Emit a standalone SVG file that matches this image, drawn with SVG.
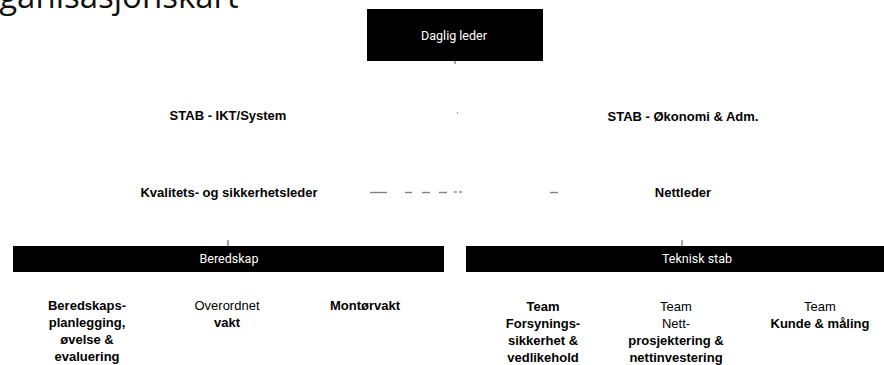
<svg xmlns="http://www.w3.org/2000/svg" width="884" height="365" viewBox="0 0 884 365">
<style>
.lbl{font-family:"Liberation Sans",Arial,sans-serif;font-size:13px;font-weight:bold;fill:#000;text-anchor:middle}
.lbm{font-family:"Liberation Sans",Arial,sans-serif;font-size:13px;font-weight:normal;fill:#000;text-anchor:middle}
.wt{font-family:Roboto,"Liberation Sans",sans-serif;font-size:12.5px;fill:#fff;text-anchor:middle}
.box{fill:#000}
.con{stroke:#808080;stroke-width:1.4;fill:none}
</style>
<rect width="884" height="365" fill="#fff"/>
<text x="-40" y="8" font-family="'Open Sans','Noto Sans',sans-serif" font-size="33" fill="#111">Organisasjonskart</text>
<g id="connectors">
<line class="con" x1="455" y1="61" x2="455" y2="64"/>
<line class="con" x1="457" y1="113" x2="458" y2="113"/>
<line class="con" x1="370" y1="192.5" x2="387" y2="192.5"/>
<line class="con" x1="405" y1="192.5" x2="412" y2="192.5"/>
<line class="con" x1="422" y1="192.5" x2="430" y2="192.5"/>
<line class="con" x1="439" y1="192.5" x2="447" y2="192.5"/>
<line class="con" x1="454" y1="192" x2="457" y2="192" stroke-width="1"/>
<line class="con" x1="459" y1="192" x2="462" y2="192" stroke-width="1"/>
<line class="con" x1="550" y1="192.5" x2="558" y2="192.5"/>
<line class="con" x1="228" y1="240" x2="228" y2="246"/>
<line class="con" x1="682" y1="240" x2="682" y2="246"/>
</g>
<g id="daglig-leder">
<rect class="box" x="367" y="9" width="176" height="52"/>
<text class="wt" x="454" y="40">Daglig leder</text>
</g>
<g id="stab-ikt">
<text class="lbl" x="228" y="120">STAB - IKT/System</text>
</g>
<g id="stab-okonomi">
<text class="lbl" x="683" y="121">STAB - Økonomi &amp; Adm.</text>
</g>
<g id="kvalitet">
<text class="lbl" x="229" y="197">Kvalitets- og sikkerhetsleder</text>
</g>
<g id="nettleder">
<text class="lbl" x="683" y="197">Nettleder</text>
</g>
<g id="beredskap">
<rect class="box" x="13" y="246" width="431" height="26"/>
<text class="wt" x="229" y="263">Beredskap</text>
</g>
<g id="teknisk-stab">
<rect class="box" x="466" y="246" width="418" height="26"/>
<text class="wt" x="697" y="263">Teknisk stab</text>
</g>
<g id="beredskapsplanlegging">
<text class="lbl" x="87" y="310">Beredskaps-</text>
<text class="lbl" x="87" y="327">planlegging,</text>
<text class="lbl" x="87" y="344">øvelse &amp;</text>
<text class="lbl" x="87" y="361">evaluering</text>
</g>
<g id="overordnet-vakt">
<text class="lbm" x="227" y="310">Overordnet</text>
<text class="lbl" x="227" y="327">vakt</text>
</g>
<g id="montorvakt">
<text class="lbl" x="365" y="310">Montørvakt</text>
</g>
<g id="team-forsyning">
<text class="lbl" x="543" y="311">Team</text>
<text class="lbl" x="543" y="328">Forsynings-</text>
<text class="lbl" x="543" y="345">sikkerhet &amp;</text>
<text class="lbl" x="543" y="362">vedlikehold</text>
</g>
<g id="team-nett">
<text class="lbm" x="676" y="311">Team</text>
<text class="lbm" x="676" y="328">Nett-</text>
<text class="lbl" x="676" y="345">prosjektering &amp;</text>
<text class="lbl" x="676" y="362">nettinvestering</text>
</g>
<g id="team-kunde">
<text class="lbm" x="820" y="311">Team</text>
<text class="lbl" x="820" y="328">Kunde &amp; måling</text>
</g>
</svg>
